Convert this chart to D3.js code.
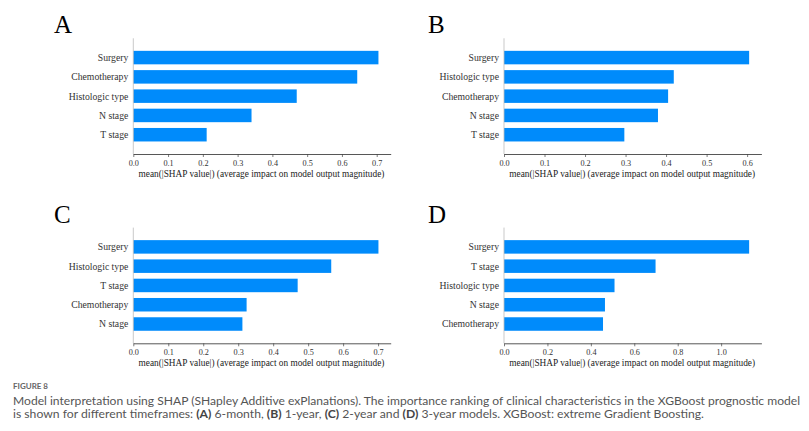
<!DOCTYPE html>
<html>
<head>
<meta charset="utf-8">
<script src="https://cdn.jsdelivr.net/npm/d3@7"></script>
<style>
  html, body { margin: 0; padding: 0; background: #fff; }
  svg { display: block; }
</style>
</head>
<body>
<svg id="chart" width="809" height="431"></svg>
<script>
// ---- Data ----
const panelLetters = ["A", "B", "C", "D"];
const categoriesA = ["Surgery", "Chemotherapy", "Histologic type", "N stage", "T stage"];
const valuesA = [0.705, 0.644, 0.470, 0.340, 0.211];
const ticksA = [0.0, 0.1, 0.2, 0.3, 0.4, 0.5, 0.6, 0.7];

const categoriesB = ["Surgery", "Histologic type", "Chemotherapy", "N stage", "T stage"];
const valuesB = [0.605, 0.419, 0.405, 0.380, 0.297];
const ticksB = [0.0, 0.1, 0.2, 0.3, 0.4, 0.5, 0.6];

const categoriesC = ["Surgery", "Histologic type", "T stage", "Chemotherapy", "N stage"];
const valuesC = [0.701, 0.566, 0.470, 0.324, 0.312];
const ticksC = [0.0, 0.1, 0.2, 0.3, 0.4, 0.5, 0.6, 0.7];

const categoriesD = ["Surgery", "T stage", "Histologic type", "N stage", "Chemotherapy"];
const valuesD = [1.129, 0.698, 0.509, 0.465, 0.456];
const ticksD = [0.0, 0.2, 0.4, 0.6, 0.8, 1.0];

const xAxisTitle = "mean(|SHAP value|) (average impact on model output magnitude)";
const figureLabel = "FIGURE 8";
const captionLine1 = "Model interpretation using SHAP (SHapley Additive exPlanations). The importance ranking of clinical characteristics in the XGBoost prognostic model";
const captionLine2Parts = [
  ["is shown for different timeframes: ", false], ["(A)", true], [" 6-month, ", false],
  ["(B)", true], [" 1-year, ", false], ["(C)", true], [" 2-year and ", false],
  ["(D)", true], [" 3-year models. XGBoost: extreme Gradient Boosting.", false]
];

// ---- Layout ----
const svg = d3.select("#chart");
svg.append("rect").attr("width", 809).attr("height", 431).attr("fill", "#fff");

const serif = "'Liberation Serif', 'Times New Roman', serif";
const barColor = "#008bfb";

const panels = [
  { letter: panelLetters[0], cats: categoriesA, vals: valuesA, ticks: ticksA, ox: 0,     oy: 0 },
  { letter: panelLetters[1], cats: categoriesB, vals: valuesB, ticks: ticksB, ox: 370.7, oy: 0 },
  { letter: panelLetters[2], cats: categoriesC, vals: valuesC, ticks: ticksC, ox: 0,     oy: 189.3 },
  { letter: panelLetters[3], cats: categoriesD, vals: valuesD, ticks: ticksD, ox: 370.7, oy: 189.3 }
];

const plotLeft = 133.3, plotWidth = 257.4;
const plotTop = 38.3, plotBottom = 154;

panels.forEach(p => {
  const g = svg.append("g").attr("transform", `translate(${p.ox},${p.oy})`);

  const x = d3.scaleLinear()
    .domain([0, d3.max(p.vals) * 1.05])
    .range([plotLeft, plotLeft + plotWidth]);
  const y = d3.scaleLinear()
    .domain([-1, p.cats.length])
    .range([plotTop, plotBottom]);
  const unit = y(1) - y(0);
  const barH = unit * 0.7;

  // Panel letter
  g.append("text")
    .attr("x", p.letter === "A" || p.letter === "C" ? 54 : 57.3)
    .attr("y", 33.3)
    .attr("font-family", serif)
    .attr("font-size", 25)
    .attr("fill", "#000")
    .text(p.letter);

  // Bars
  g.selectAll("rect.bar")
    .data(p.vals)
    .join("rect")
    .attr("class", "bar")
    .attr("x", x(0))
    .attr("y", (d, i) => y(i) - barH / 2)
    .attr("width", d => x(d) - x(0))
    .attr("height", barH)
    .attr("fill", barColor);

  // Category labels
  g.selectAll("text.cat")
    .data(p.cats)
    .join("text")
    .attr("class", "cat")
    .attr("x", x(0) - 5)
    .attr("y", (d, i) => y(i))
    .attr("dy", "0.35em")
    .attr("text-anchor", "end")
    .attr("font-family", serif)
    .attr("font-size", 9.7)
    .attr("fill", "#333")
    .text(d => d);

  // Left spine
  g.append("line")
    .attr("x1", x(0)).attr("x2", x(0))
    .attr("y1", plotTop).attr("y2", plotBottom)
    .attr("stroke", "#bbb").attr("stroke-width", 0.8);

  // X axis
  const axis = d3.axisBottom(x)
    .tickValues(p.ticks)
    .tickFormat(d3.format(".1f"))
    .tickSize(3)
    .tickSizeOuter(0);
  const ax = g.append("g")
    .attr("transform", `translate(0,${plotBottom})`)
    .call(axis);
  ax.select(".domain").attr("stroke", "#444").attr("stroke-width", 0.9);
  ax.selectAll(".tick line").attr("stroke", "#444").attr("stroke-width", 0.7);
  ax.selectAll(".tick text")
    .attr("font-family", serif)
    .attr("font-size", 8.2)
    .attr("fill", "#333")
    .attr("y", 6);

  // Axis title
  g.append("text")
    .attr("x", plotLeft + plotWidth / 2 - 0.5)
    .attr("y", 176.5)
    .attr("text-anchor", "middle")
    .attr("font-family", serif)
    .attr("font-size", 9.3)
    .attr("fill", "#222")
    .text(xAxisTitle);
});

// ---- Caption ----
const sans = "Lato, 'Open Sans', sans-serif";
svg.append("text")
  .attr("x", 13).attr("y", 388.5)
  .attr("font-family", sans)
  .attr("font-size", 8)
  .attr("font-weight", 700)
  .attr("fill", "#666")
  .text(figureLabel);

svg.append("text")
  .attr("x", 13).attr("y", 404.8)
  .attr("font-family", sans)
  .attr("font-size", 10.8)
  .attr("fill", "#555")
  .attr("textLength", 787)
  .attr("lengthAdjust", "spacingAndGlyphs")
  .text(captionLine1);

// second line: parts placed one after another by their measured widths
const line2Width = 691;
const line2 = svg.append("g");
const parts = line2.selectAll("text")
  .data(captionLine2Parts)
  .join("text")
  .attr("y", 417.8)
  .attr("font-family", sans)
  .attr("font-size", 10.8)
  .attr("font-weight", d => d[1] ? 700 : 400)
  .attr("fill", d => d[1] ? "#444" : "#555")
  .attr("xml:space", "preserve")
  .style("white-space", "pre")
  .text(d => d[0]);
const widths = parts.nodes().map(n => n.getComputedTextLength());
const total = d3.sum(widths);
const k = line2Width / total;
let cx = 13;
parts.each(function(d, i) {
  d3.select(this)
    .attr("x", cx)
    .attr("textLength", widths[i] * k)
    .attr("lengthAdjust", "spacingAndGlyphs");
  cx += widths[i] * k;
});
</script>
</body>
</html>
